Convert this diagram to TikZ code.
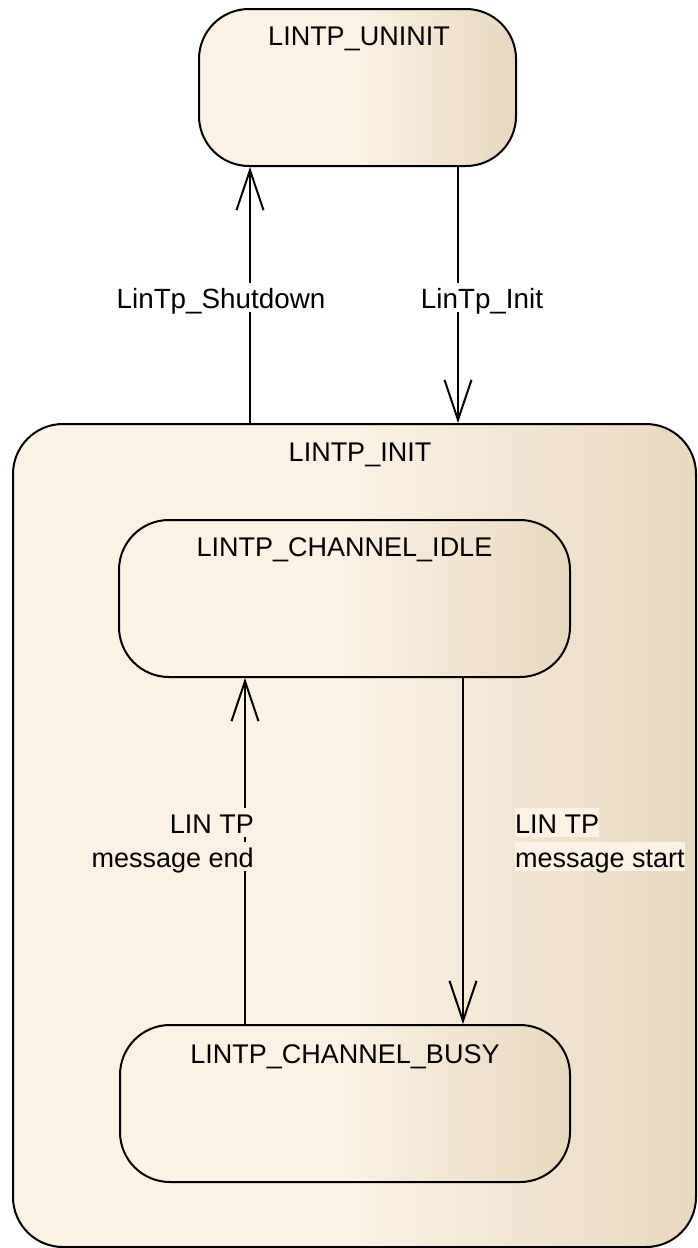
\documentclass[tikz,border=0pt]{standalone}
\usepackage{fontspec}
\setmainfont{Liberation Sans}
\usetikzlibrary{arrows.meta}

\definecolor{statelight}{RGB}{251,241,228}
\definecolor{statedark}{RGB}{232,216,191}
\pgfdeclarehorizontalshading{stategrad}{100bp}{%
  color(0bp)=(statelight); color(50bp)=(statelight);
  color(75bp)=(statedark); color(100bp)=(statedark)}
\newcommand{\umlfont}{\fontsize{27}{32}\selectfont}
\newcommand{\guardfont}{\fontsize{27.8}{33}\selectfont}

\tikzset{
  state/.style={draw, line width=2pt, rounded corners=50pt, shade, shading=stategrad, inner sep=0pt},
  statename/.style={anchor=base, font=\umlfont},
  trans/.style={line width=2pt, -{Straight Barb[length=40pt,width=27pt]}},
  guard/.style={font=\umlfont, inner sep=0pt, text height=25pt, text depth=4pt},
}

\begin{document}
\begin{tikzpicture}[x=1pt,y=-1pt]
  \useasboundingbox (0,0) rectangle (697,1248);

  % states
  \node[state, minimum width=683pt, minimum height=823pt] (init)   at (354.5,835.5) {};
  \node[state, minimum width=317pt, minimum height=157pt] (uninit) at (357.5,87.5)  {};
  \node[state, minimum width=451pt, minimum height=157pt] (idle)   at (344.5,598.5) {};
  \node[state, minimum width=450pt, minimum height=157pt] (busy)   at (345,1103.5)  {};

  \node[statename] (uninit-name) at (359,45)   {LINTP\_UNINIT};
  \node[statename] (init-name)   at (360,461)  {LINTP\_INIT};
  \node[statename] (idle-name)   at (344.5,556) {LINTP\_CHANNEL\_IDLE};
  \node[statename] (busy-name)   at (345,1063) {LINTP\_CHANNEL\_BUSY};

  % transitions
  \coordinate (shutdown-x) at (250,0);
  \coordinate (initcall-x) at (458,0);
  \coordinate (end-x)      at (245,0);
  \coordinate (start-x)    at (463,0);

  \path (init.north -| shutdown-x) edge[trans] (uninit.south -| shutdown-x)
        (uninit.south -| initcall-x) edge[trans] (init.north -| initcall-x)
        (busy.north -| end-x)        edge[trans] (idle.south -| end-x)
        (idle.south -| start-x)      edge[trans] (busy.north -| start-x);

  \node[guard, font=\guardfont, fill=white, anchor=base] (shutdown-lbl) at (221,308) {LinTp\_Shutdown};
  \node[guard, font=\guardfont, fill=white, anchor=base] (initcall-lbl) at (482,308) {LinTp\_Init};

  \foreach \t [count=\i] in {LIN TP, message end}
    {\node[guard, fill=statelight, anchor=base east] (end-\i) at (254,799+34*\i) {\t};};
  \foreach \t [count=\i] in {LIN TP, message start}
    {\node[guard, fill=statelight, anchor=base west] (start-\i) at (515,799+34*\i) {\t};};
\end{tikzpicture}
\end{document}
